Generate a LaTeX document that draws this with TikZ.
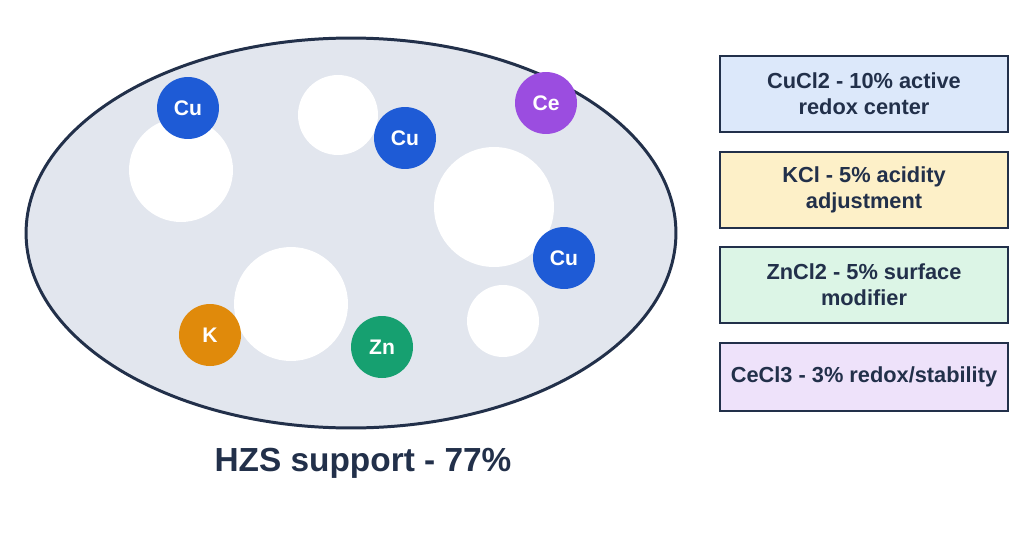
\documentclass[tikz,border=0pt]{standalone}
\usepackage{fontspec}
\setmainfont{Liberation Sans}
\usetikzlibrary{positioning}
\usetikzlibrary{shapes.geometric}
\definecolor{navy}{HTML}{22304A}
\definecolor{support}{HTML}{E2E6EE}
\definecolor{cublue}{HTML}{1E5BD6}
\definecolor{cepurple}{HTML}{9B4DE0}
\definecolor{korange}{HTML}{E08A0B}
\definecolor{zngreen}{HTML}{16A070}
\definecolor{boxblue}{HTML}{DCE8FA}
\definecolor{boxyellow}{HTML}{FDF0C8}
\definecolor{boxgreen}{HTML}{DCF5E6}
\definecolor{boxpurple}{HTML}{EEE2FA}
\tikzset{
  % pore in the support
  pore/.style = {
    circle,
    fill = white,
    inner sep = 0
  },
  % metal site
  metal/.style = {
    circle,
    minimum size = 1.24cm,
    inner sep = 0,
    text = white,
    font = \fontsize{12}{14}\selectfont\bfseries
  },
  % legend box
  legend/.style = {
    draw = navy,
    line width = 1.2pt,
    minimum width = 5.76cm,
    minimum height = 1.52cm,
    align = center,
    text = navy,
    font = \fontsize{12.4}{15}\selectfont\bfseries
  }
}
\begin{document}
\begin{tikzpicture}[x=0.02cm, y=-0.02cm]
    \useasboundingbox (0,0) rectangle (1030,534);
    \node[draw = navy, line width = 1.7pt, fill = support, ellipse,
      minimum width = 13cm, minimum height = 7.8cm, inner sep = 0]
      (support) at (351,233) {};
    \node[pore, minimum size = 2.08cm] (pore1) at (181,170) {};
    \node[pore, minimum size = 1.6cm] (pore2) at (338,115) {};
    \node[pore, minimum size = 2.4cm] (pore3) at (494,207) {};
    \node[pore, minimum size = 2.28cm] (pore4) at (291,304) {};
    \node[pore, minimum size = 1.44cm] (pore5) at (503,321) {};

    \node[metal, fill = cublue] (cu1) at (188,108) {Cu};
    \node[metal, fill = cublue] (cu2) at (405,138) {Cu};
    \node[metal, fill = cepurple] (ce) at (546,103) {Ce};
    \node[metal, fill = cublue] (cu3) at (564,258) {Cu};
    \node[metal, fill = korange] (k) at (210,335) {K};
    \node[metal, fill = zngreen] (zn) at (382,347) {Zn};

    \node[text = navy, font = \fontsize{19}{22}\selectfont\bfseries]
      (label) at (363,463) {HZS support - 77\%};

    \node[legend, fill = boxblue] (cucl) at (864,94) {CuCl2 - 10\% active\\redox center};
    \node[legend, fill = boxyellow] (kcl) at (864,190) {KCl - 5\% acidity\\adjustment};
    \node[legend, fill = boxgreen] (zncl) at (864,285) {ZnCl2 - 5\% surface\\modifier};
    \node[legend, fill = boxpurple, minimum height = 1.36cm] (cecl) at (864,377) {CeCl3 - 3\% redox/stability};
\end{tikzpicture}
\end{document}
